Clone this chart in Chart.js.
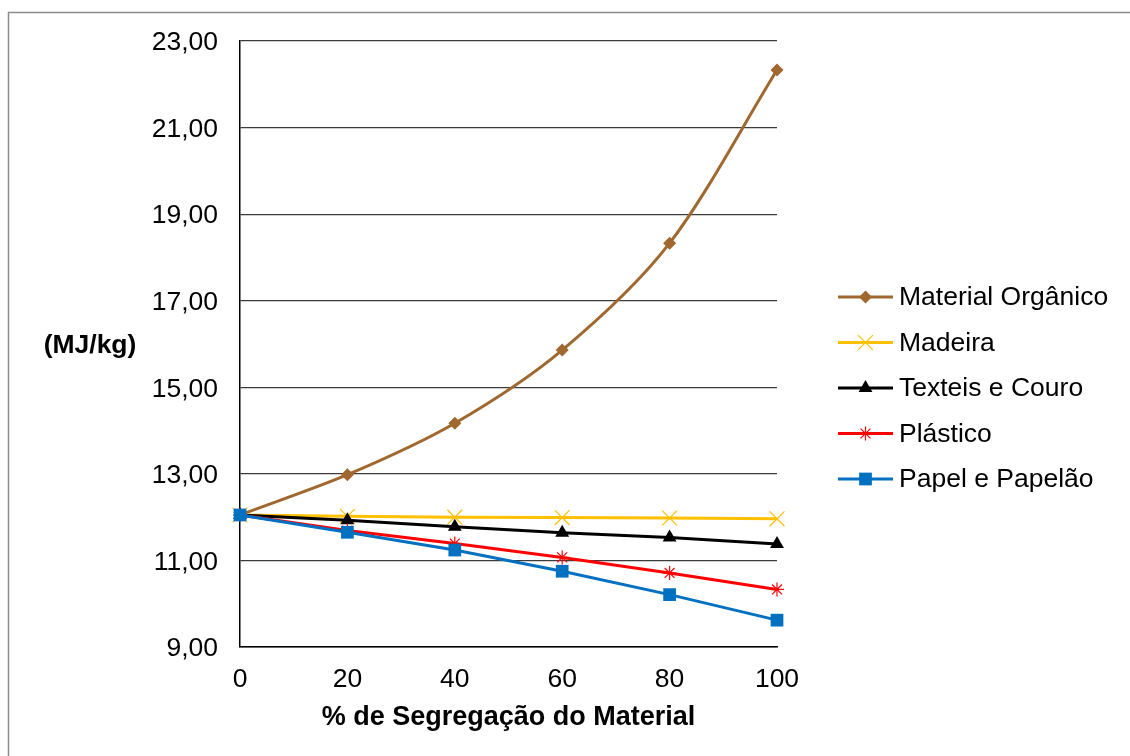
<!DOCTYPE html>
<html>
<head>
<meta charset="utf-8">
<script src="https://cdn.jsdelivr.net/npm/chart.js@4"></script>
<style>
  html, body { margin: 0; padding: 0; background: #fff; }
  #wrap { width: 1130px; height: 756px; position: relative; }
</style>
</head>
<body>
<div id="wrap"><canvas id="c" width="1130" height="756"></canvas></div>
<script>
// Percentage of material segregated
const segregacao = [0, 20, 40, 60, 80, 100];

// Calorific value (MJ/kg) for each material removed
const materialOrganico = [12.05, 12.98, 14.17, 15.86, 18.33, 22.33];
const madeira          = [12.05, 12.02, 12.00, 11.99, 11.98, 11.96];
const texteisCouro     = [12.05, 11.93, 11.78, 11.64, 11.53, 11.38];
const plastico         = [12.05, 11.69, 11.39, 11.07, 10.71, 10.33];
const papelPapelao     = [12.05, 11.65, 11.24, 10.75, 10.21, 9.62];

const seriesNames = ['Material Orgânico', 'Madeira', 'Texteis e Couro', 'Plástico', 'Papel e Papelão'];
const yTicks = [9, 11, 13, 15, 17, 19, 21, 23];
const xTitle = '% de Segregação do Material';
const yTitle = '(MJ/kg)';

const FONT = '"Liberation Sans", Arial, sans-serif';
const FS = 26.5;

function pts(arr) { return arr.map((v, i) => ({ x: segregacao[i], y: v })); }

const styles = [
  { color: '#A0682F', pointStyle: 'rectRot', radius: 6.5, tension: 0.3, fill: true },
  { color: '#FFC000', pointStyle: 'crossRot', radius: 10.5, tension: 0, fill: false },
  { color: '#000000', pointStyle: 'triangle', radius: 8, tension: 0, fill: true },
  { color: '#FF0000', pointStyle: 'star', radius: 7, tension: 0, fill: false },
  { color: '#0070C0', pointStyle: 'rect', radius: 9, tension: 0, fill: true }
];
const values = [materialOrganico, madeira, texteisCouro, plastico, papelPapelao];

const datasets = values.map((vals, i) => {
  const s = styles[i];
  return {
    label: seriesNames[i],
    data: pts(vals),
    borderColor: s.color,
    backgroundColor: s.color,
    borderWidth: 3,
    tension: s.tension,
    pointStyle: s.pointStyle,
    pointRadius: s.radius,
    pointHoverRadius: s.radius,
    pointBorderWidth: s.fill ? 0 : 1.2,
    pointBorderColor: s.color,
    pointBackgroundColor: s.color,
    clip: false,
    order: values.length - 1 - i
  };
});

// Frame, horizontal y-title and the series legend
const decorations = {
  id: 'decorations',
  beforeDraw(chart) {
    const ctx = chart.ctx;
    ctx.save();
    ctx.fillStyle = '#fff';
    ctx.fillRect(0, 0, chart.width, chart.height);
    ctx.strokeStyle = '#8c8c8c';
    ctx.lineWidth = 1.5;
    ctx.beginPath();
    ctx.moveTo(8.5, chart.height);
    ctx.lineTo(8.5, 12.5);
    ctx.lineTo(chart.width, 12.5);
    ctx.stroke();
    ctx.restore();
  },
  afterDraw(chart) {
    const ctx = chart.ctx;
    const area = chart.chartArea;
    ctx.save();
    // y title, horizontal
    ctx.fillStyle = '#000';
    ctx.font = 'bold ' + FS + 'px ' + FONT;
    ctx.textAlign = 'center';
    ctx.textBaseline = 'middle';
    ctx.fillText(yTitle, 90, (area.top + area.bottom) / 2 + 2);

    // legend
    const lineX0 = 838, lineX1 = 893, textX = 899;
    const y0 = 297, step = 45.5;
    ctx.font = FS + 'px ' + FONT;
    ctx.textAlign = 'left';
    chart.data.datasets.forEach((ds, i) => {
      const y = y0 + i * step;
      ctx.strokeStyle = ds.borderColor;
      ctx.lineWidth = ds.borderWidth;
      ctx.beginPath();
      ctx.moveTo(lineX0, y);
      ctx.lineTo(lineX1, y);
      ctx.stroke();
      ctx.fillStyle = ds.pointBackgroundColor;
      ctx.strokeStyle = ds.pointBorderColor;
      ctx.lineWidth = ds.pointBorderWidth;
      Chart.helpers.drawPoint(ctx, {
        pointStyle: ds.pointStyle,
        radius: ds.pointRadius,
        borderWidth: ds.pointBorderWidth,
        rotation: 0
      }, (lineX0 + lineX1) / 2, y);
      ctx.fillStyle = '#000';
      ctx.fillText(ds.label, textX, y + 1);
    });
    ctx.restore();
  }
};

new Chart(document.getElementById('c'), {
  type: 'line',
  data: { datasets },
  plugins: [decorations],
  options: {
    responsive: false,
    animation: false,
    events: [],
    layout: { padding: { top: 41, right: 353, bottom: 0, left: 0 } },
    plugins: { legend: { display: false }, tooltip: { enabled: false } },
    scales: {
      x: {
        type: 'linear',
        min: 0,
        max: 100,
        afterFit(scale) { scale.height = 109; },
        afterBuildTicks(scale) { scale.ticks = segregacao.map(v => ({ value: v })); },
        ticks: {
          color: '#000',
          font: { family: FONT, size: FS },
          padding: 17,
          maxRotation: 0,
          autoSkip: false
        },
        grid: { display: false, drawTicks: false },
        border: { display: true, color: '#000', width: 1.5 },
        title: {
          display: true,
          text: xTitle,
          color: '#000',
          font: { family: FONT, size: 27, weight: 'bold' },
          padding: { top: 0, bottom: 22 }
        }
      },
      y: {
        min: 9,
        max: 23,
        afterFit(scale) { scale.width = 240; },
        afterBuildTicks(scale) { scale.ticks = yTicks.map(v => ({ value: v })); },
        ticks: {
          color: '#000',
          font: { family: FONT, size: FS },
          padding: 22,
          labelOffset: 2,
          callback: v => v.toFixed(2).replace('.', ',')
        },
        grid: { color: '#3c3c3c', lineWidth: 1.2, drawTicks: false },
        border: { display: true, color: '#000', width: 1.5 }
      }
    }
  }
});
</script>
</body>
</html>
